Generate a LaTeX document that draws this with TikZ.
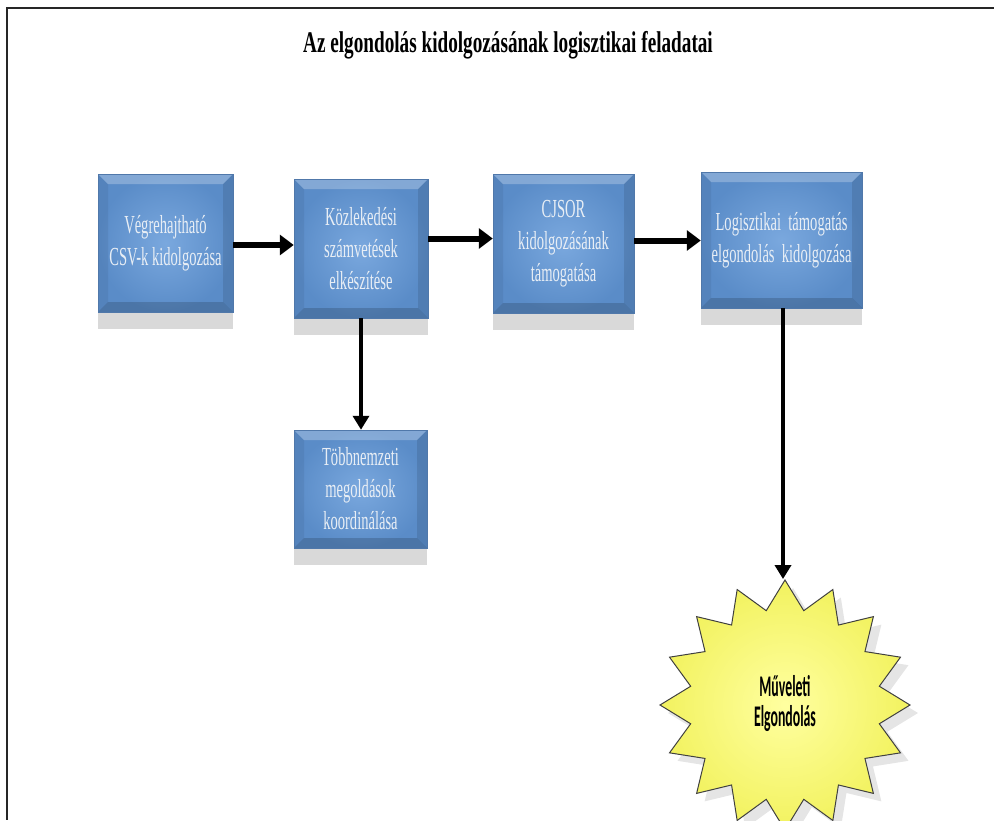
\documentclass[tikz,border=0pt]{standalone}
\usepackage{fontspec}
\setmainfont{Liberation Serif}
\newfontfamily\boxfont[FakeStretch=0.56]{Liberation Serif}
\newfontfamily\titlefont[FakeStretch=0.64]{Liberation Serif}
\newfontfamily\starfont[FakeStretch=0.46]{Carlito}
\usetikzlibrary{shapes.geometric,shadows,arrows.meta}
\definecolor{boxlight}{RGB}{122,168,222}
\definecolor{boxdark}{RGB}{90,140,200}
\definecolor{boxedge}{RGB}{80,120,170}
\definecolor{starlight}{RGB}{255,255,160}
\definecolor{stardark}{RGB}{242,242,95}
\tikzset{
  bluebox/.style={rectangle, inner color=boxlight, outer color=boxdark,
    draw=boxedge, line width=0.5pt, align=center, text={rgb,255:red,232;green,238;blue,245},
    font=\boxfont\fontsize{26}{32}\selectfont, inner sep=0pt,
    drop shadow={shadow xshift=0pt, shadow yshift=-17pt, fill=gray!50, opacity=0.6},
    path picture={
      \fill[white,opacity=0.25] (path picture bounding box.north west) -- (path picture bounding box.north east)
        -- ([xshift=-10pt,yshift=-10pt]path picture bounding box.north east) -- ([xshift=10pt,yshift=-10pt]path picture bounding box.north west) -- cycle;
      \fill[black,opacity=0.06] (path picture bounding box.north west) -- (path picture bounding box.south west)
        -- ([xshift=10pt,yshift=10pt]path picture bounding box.south west) -- ([xshift=10pt,yshift=-10pt]path picture bounding box.north west) -- cycle;
      \fill[black,opacity=0.16] (path picture bounding box.south west) -- (path picture bounding box.south east)
        -- ([xshift=-10pt,yshift=10pt]path picture bounding box.south east) -- ([xshift=10pt,yshift=10pt]path picture bounding box.south west) -- cycle;
      \fill[black,opacity=0.10] (path picture bounding box.north east) -- (path picture bounding box.south east)
        -- ([xshift=-10pt,yshift=10pt]path picture bounding box.south east) -- ([xshift=-10pt,yshift=-10pt]path picture bounding box.north east) -- cycle;
    }},
  harrow/.style={line width=6pt, -{Triangle[length=14pt,width=20pt]}},
  varrow/.style={line width=4pt, -{Triangle[length=14pt,width=16pt]}},
  burst/.style={star, star points=16, star point ratio=1.3, minimum size=250pt, inner sep=0pt,
    inner color=starlight, outer color=stardark, draw=black!75, line width=1pt,
    drop shadow={shadow xshift=8pt, shadow yshift=-8pt, fill=gray!40, opacity=0.5},
    font=\starfont\bfseries\fontsize{30}{28}\selectfont},
  frameline/.style={line width=2.5pt, black!85}
}
\begin{document}
\begin{tikzpicture}[x=1pt,y=1pt]
\useasboundingbox (0,0) rectangle (994,-820);
\draw[frameline] (994,-8) -- (7,-8) -- (7,-820);
\node[font=\titlefont\bfseries\fontsize{30}{34}\selectfont] (title) at (508,-45) {Az elgondolás kidolgozásának logisztikai feladatai};

\node[bluebox, minimum width=135pt, minimum height=138pt] (b1) at (165.5,-243) {Végrehajtható\\CSV-k kidolgozása};
\node[bluebox, minimum width=134pt, minimum height=139pt] (b2) at (361,-248.5) {Közlekedési\\számvetések\\elkészítése};
\node[bluebox, minimum width=141pt, minimum height=139pt] (b3) at (563.5,-243.5) {CJSOR\\kidolgozásának\\támogatása};
\node[bluebox, minimum width=161pt, minimum height=136pt] (b4) at (781.5,-240) {Logisztikai~ támogatás\\elgondolás~ kidolgozása};
\node[bluebox, minimum width=133pt, minimum height=118pt] (b5) at (360.5,-489) {Többnemzeti\\megoldások\\koordinálása};
\node[burst] (star) at (785,-705) {\raisebox{7pt}{\begin{tabular}{@{}c@{}}Műveleti\\Elgondolás\end{tabular}}};

\draw[harrow] ([yshift=-2pt]b1.east) -- ([yshift=-2pt]b1.east -| b2.west);
\draw[harrow] ([yshift=10pt]b2.east) -- ([yshift=10pt]b2.east -| b3.west);
\draw[harrow] ([yshift=3pt]b3.east) -- ([yshift=3pt]b3.east -| b4.west);
\draw[varrow] (b2.south) -- (b2.south |- b5.north);
\draw[varrow] ([xshift=1.5pt]b4.south) -- ([xshift=1.5pt]b4.south |- star.north);
\end{tikzpicture}
\end{document}
